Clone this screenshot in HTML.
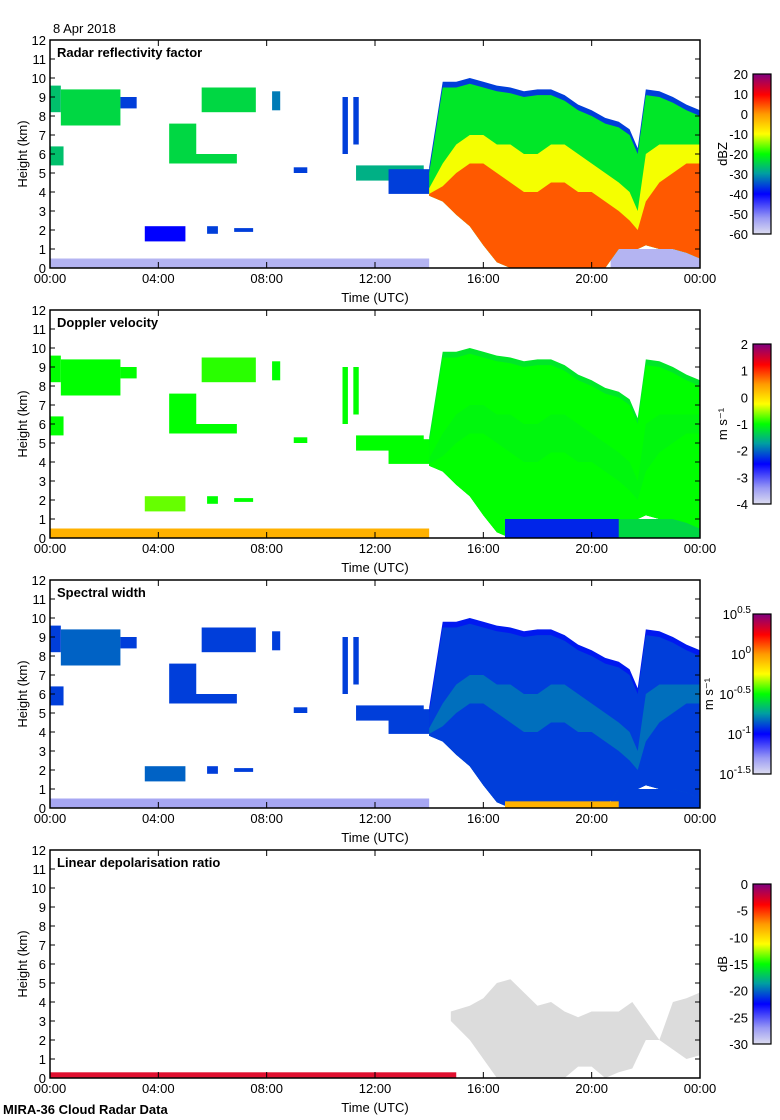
<!DOCTYPE html>
<html><head><meta charset="utf-8">
<style>
html,body{margin:0;padding:0;background:#fff;}
svg{display:block;font-family:"Liberation Sans",sans-serif;}
</style></head>
<body>
<svg id="chart" width="780" height="1120" viewBox="0 0 780 1120" xmlns="http://www.w3.org/2000/svg">
<defs>
<linearGradient id="cmap" x1="0" y1="1" x2="0" y2="0">
<stop offset="0" stop-color="#dcdcf0"/><stop offset="0.1" stop-color="#9a9af4"/>
<stop offset="0.25" stop-color="#0000ff"/><stop offset="0.38" stop-color="#00a0a0"/>
<stop offset="0.5" stop-color="#00ff00"/><stop offset="0.625" stop-color="#ffff00"/>
<stop offset="0.75" stop-color="#ff9900"/><stop offset="0.87" stop-color="#ff0000"/>
<stop offset="1" stop-color="#800080"/>
</linearGradient>
</defs>
<text x="53" y="33" font-size="13">8 Apr 2018</text>
<text x="3" y="1114" font-size="13" font-weight="bold">MIRA-36 Cloud Radar Data</text>
</svg>
<script>
// ---- data (hours UTC, km, normalized colour values) ----
const blobT0 = [0,0.4,2.6,0,4.4,5.2,5.6,8.2,10.8,11.2,11.3,3.5,5.8,6.8,0,9.0,12.5,20.7];
const blobT1 = [0.4,2.6,3.2,0.5,5.4,6.9,7.6,8.5,11.0,11.4,13.8,5.0,6.2,7.5,14,9.5,14.2,24];
const blobZ0 = [8.2,7.5,8.4,5.4,5.5,5.5,8.2,8.3,6.0,6.5,4.6,1.4,1.8,1.9,0,5.0,3.9,0];
const blobZ1 = [9.6,9.4,9.0,6.4,7.6,6.0,9.5,9.3,9.0,9.0,5.4,2.2,2.2,2.1,0.5,5.3,5.2,1.0];
const blobV1 = [0.42,0.45,0.3,0.42,0.45,0.45,0.45,0.35,0.3,0.3,0.4,0.25,0.3,0.3,0.06,0.3,0.3,0.06];
const blobV2 = [0.5,0.5,0.5,0.5,0.5,0.5,0.52,0.5,0.5,0.5,0.5,0.55,0.5,0.5,0.72,0.5,0.5,0.45];
const blobV3 = [0.3,0.33,0.3,0.3,0.3,0.3,0.3,0.3,0.3,0.3,0.3,0.33,0.3,0.3,0.08,0.3,0.3,0.3];
const stormT    = [14.0,14.5,15,15.5,16,16.5,17,17.5,18,18.5,19,19.5,20,20.5,21,21.4,21.7,22,22.5,23,23.5,24];
const stormTop  = [5.0,9.5,9.5,9.7,9.5,9.3,9.2,9.0,9.1,9.1,8.8,8.3,8.0,7.6,7.4,7.0,6.0,9.1,9.0,8.7,8.3,8.0];
const stormBase = [3.8,3.5,2.8,2.2,1.2,0.3,0,0,0,0,0,0,0,0,1.0,1.0,1.0,1.2,1.0,1.0,0.8,0.5];
const stormMid  = [4.2,5.5,6.5,7,7,6.5,6.5,6,6,6.5,6.5,6,5.5,5,4.5,4,3,6,6.5,6.5,6.5,6.5];
const stormCore = [3.9,4.3,5,5.5,5.5,5,4.5,4,4,4.5,4.5,4,4,3.5,3,2.5,2,3.5,4.5,5,5.5,5.5];
const stormV1 = [0.3,0.47,0.62,0.8];
const stormV2 = [0.47,0.5,0.49,0.5];
const stormV3 = [0.27,0.3,0.34,0.3];
const ldrT    = [14.8,15.5,16,16.5,17,17.5,18,18.5,19,19.5,20,20.5,21,21.5,22,22.5,23,23.5,24];
const ldrTop  = [3.5,3.8,4.2,5,5.2,4.5,3.8,4,3.5,3.2,3.5,3.5,3.5,4,3,2,4,4.2,4.5];
const ldrBase = [3,2,1,0,0,0,0,0,0,0.6,0.6,0,0.3,0.5,2,2,1.5,1,1.2];
const xTicks = ["00:00","04:00","08:00","12:00","16:00","20:00","00:00"];
const yTicks = [0,1,2,3,4,5,6,7,8,9,10,11,12];
const titles = ["Radar reflectivity factor","Doppler velocity","Spectral width","Linear depolarisation ratio"];
const cbLabels1 = ["20","10","0","-10","-20","-30","-40","-50","-60"];
const cbLabels2 = ["2","1","0","-1","-2","-3","-4"];
const cbLabels4 = ["0","-5","-10","-15","-20","-25","-30"];

const NS="http://www.w3.org/2000/svg";
const svg=document.getElementById('chart');
const L=50,R=700,H=228;
const stops=[[0,[220,220,240]],[0.1,[154,154,244]],[0.25,[0,0,255]],[0.38,[0,160,160]],[0.5,[0,255,0]],[0.625,[255,255,0]],[0.75,[255,153,0]],[0.87,[255,0,0]],[1,[128,0,128]]];
function cmap(v){for(let i=1;i<stops.length;i++){if(v<=stops[i][0]){const a=stops[i-1],b=stops[i],f=(v-a[0])/(b[0]-a[0]);const c=a[1].map((x,k)=>Math.round(x+(b[1][k]-x)*f));return `rgb(${c})`;}}return 'rgb(128,0,128)';}
function el(tag,attrs,parent){const e=document.createElementNS(NS,tag);for(const k in attrs)e.setAttribute(k,attrs[k]);(parent||svg).appendChild(e);return e;}
function xs(h){return L+h*(R-L)/24;}

function panel(p,top){
  const ys=z=>top+H-Math.min(12,z)*H/12;
  const g=el('g',{});
  
  
  if(p<3){
    const bv=[blobV1,blobV2,blobV3][p];
    for(let i=0;i<blobT0.length;i++){
      const r=el('rect',{x:xs(blobT0[i]),y:ys(blobZ1[i]),width:xs(blobT1[i])-xs(blobT0[i]),height:ys(blobZ0[i])-ys(blobZ1[i]),fill:cmap(bv[i])},g);
      
      
    }
    const sv=[stormV1,stormV2,stormV3][p];
    const rimTop=stormTop.map(v=>v+0.3);
    [rimTop,stormTop,stormMid,stormCore].forEach((tops,j)=>{
      let pts=stormT.map((t,i)=>xs(t)+','+ys(tops[i]));
      pts=pts.concat(stormT.slice().reverse().map((t,i)=>xs(t)+','+ys(stormBase[stormT.length-1-i])));
      const pg=el('polygon',{points:pts.join(' '),fill:cmap(sv[j])},g);
      
      
    });
    if(p===1){const r=el('rect',{x:xs(16.8),y:ys(1),width:xs(21)-xs(16.8),height:ys(0)-ys(1),fill:cmap(0.28)},g);
      
      }
    if(p===2){const r=el('rect',{x:xs(16.8),y:ys(0.35),width:xs(21)-xs(16.8),height:ys(0)-ys(0.35),fill:cmap(0.72)},g);
      
      }
  } else {
    let pts=ldrT.map((t,i)=>xs(t)+','+ys(ldrTop[i]));
    pts=pts.concat(ldrT.slice().reverse().map((t,i)=>xs(t)+','+ys(ldrBase[ldrT.length-1-i])));
    const pg=el('polygon',{points:pts.join(' '),fill:'#dcdcdc'},g);
    
    
    const r=el('rect',{x:xs(0),y:ys(0.3),width:xs(15)-xs(0),height:ys(0)-ys(0.3),fill:'#e01030'},g);
    
    
  }
  const fr=el('rect',{x:L,y:top,width:R-L,height:H,fill:'none',stroke:'#000','stroke-width':1.5});
  
  
  yTicks.forEach(v=>{
    const y=ys(v);
    el('line',{x1:L,x2:L+5,y1:y,y2:y,stroke:'#000'});
    el('line',{x1:R-5,x2:R,y1:y,y2:y,stroke:'#000'});
    const t=el('text',{x:L-4,y:y+5,'font-size':13,'text-anchor':'end'});t.textContent=v;
    
    
  });
  xTicks.forEach((s,i)=>{
    const x=xs(i*4);
    el('line',{x1:x,x2:x,y1:top+H,y2:top+H-6,stroke:'#000'});
    el('line',{x1:x,x2:x,y1:top,y2:top+6,stroke:'#000'});
    const t=el('text',{x:x,y:top+H+15,'font-size':13,'text-anchor':'middle'});t.textContent=s;
    
    
  });
  const xt=el('text',{x:375,y:top+H+34,'font-size':13,'text-anchor':'middle'});xt.textContent='Time (UTC)';
  
  
  const yt=el('text',{x:0,y:0,'font-size':13,'text-anchor':'middle',transform:`translate(27,${top+H/2}) rotate(-90)`});yt.textContent='Height (km)';
  
  
  const tt=el('text',{x:57,y:top+17,'font-size':13,'font-weight':'bold'});tt.textContent=titles[p];
  
  
  const cy=top+34,ch=160;
  const cb=el('rect',{x:753,y:cy,width:18,height:ch,fill:'url(#cmap)',stroke:'#000','stroke-width':1.2});
  
  
  let labels,unit,ux=727;
  if(p===0){labels=cbLabels1;unit='dBZ';}
  else if(p===1){labels=cbLabels2;unit='m s⁻¹';}
  else if(p===2){labels=['10^0.5','10^0','10^-0.5','10^-1','10^-1.5'];unit='m s⁻¹';ux=713;}
  else {labels=cbLabels4;unit='dB';}
  labels.forEach((s,i)=>{
    const y=cy+i*ch/(labels.length-1);
    const t=el('text',{x:p===2?751:748,y:y+5,'font-size':13,'text-anchor':'end'});
    if(p===2){const parts=s.split('^');t.textContent=parts[0];const sp=el('tspan',{dy:-6,'font-size':10},t);sp.textContent=parts[1];}
    else t.textContent=s;
    
    
  });
  const u=el('text',{x:0,y:0,'font-size':13,'text-anchor':'middle',transform:`translate(${ux},${cy+ch/2}) rotate(-90)`});u.textContent=unit;
  
  
}
[40,310,580,850].forEach((t,i)=>panel(i,t));
</script>
</body></html>
